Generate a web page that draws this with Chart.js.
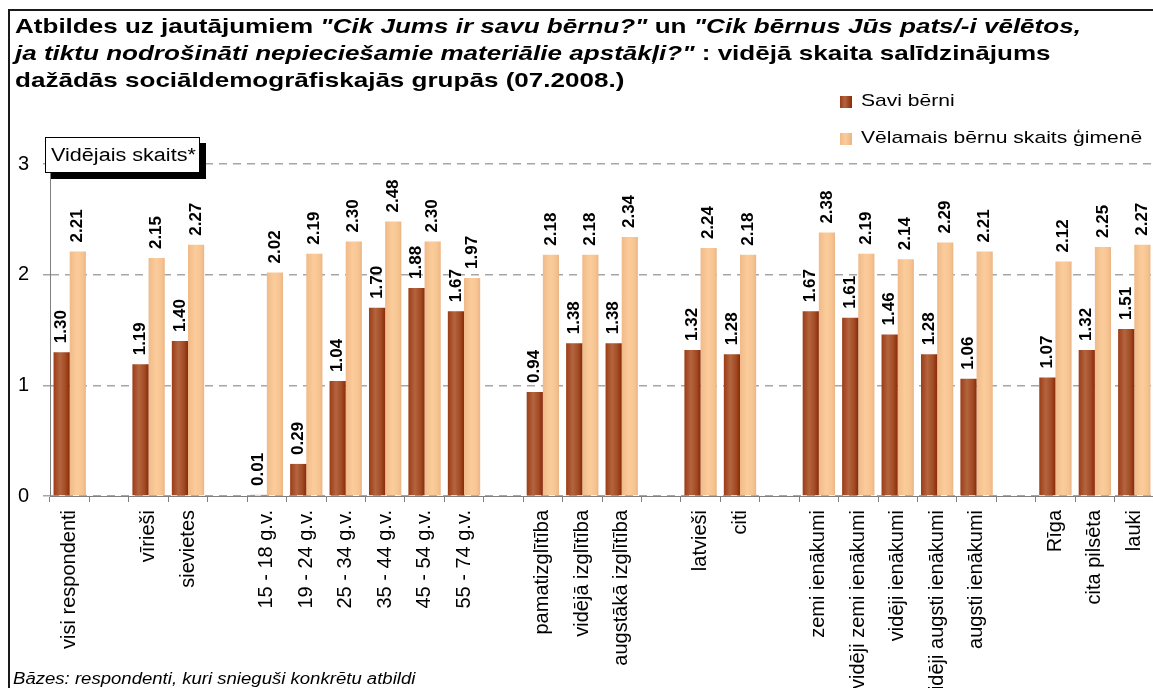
<!DOCTYPE html>
<html lang="lv">
<head>
<meta charset="utf-8">
<script src="https://cdn.jsdelivr.net/npm/chart.js@4.4.1/dist/chart.umd.min.js"></script>
<style>
    html, body { margin: 0; padding: 0; background: #fff; overflow: hidden; width: 1153px; height: 688px; }
    body { position: relative; font-family: 'Liberation Sans', Arial, sans-serif; color: #000; }
    #ramis { position: absolute; left: 8px; top: 9px; width: 1200px; height: 720px; border: 2px solid #1a1a1a; box-sizing: border-box; }
    #wrap { position: absolute; left: 0; top: 0; width: 1170px; height: 688px; }
    .stiept { position: absolute; white-space: nowrap; transform-origin: 0 0; }
    .virsraksts { left: 15px; font-size: 21px; font-weight: bold; line-height: 27px; transform: scaleX(1.24); }
    .leg { left: 861px; font-size: 17px; line-height: 24px; transform: scaleX(1.24); }
    .kv { position: absolute; left: 840px; width: 12px; height: 12px; }
    #ybox { position: absolute; left: 45px; top: 137px; width: 155px; height: 36px; box-sizing: border-box; border: 1px solid #000; background: #fff; box-shadow: 6px 6px 0 #000; }
    #ybox div { left: 5px; top: 0; font-size: 18px; line-height: 34px; transform: scaleX(1.2); }
    #bazes { left: 13px; top: 669px; font-size: 16px; font-style: italic; line-height: 20px; transform: scaleX(1.16); }
</style>
</head>
<body>
<div id="ramis"></div>
<div id="wrap"><canvas id="grafiks"></canvas></div>
<div class="stiept virsraksts" style="top:12px">Atbildes uz jautājumiem <i>"Cik Jums ir savu bērnu?"</i> un <i>"Cik bērnus Jūs pats/-i vēlētos,</i></div>
<div class="stiept virsraksts" style="top:39px"><i>ja tiktu nodrošināti nepieciešamie materiālie apstākļi?"</i> : vidējā skaita salīdzinājums</div>
<div class="stiept virsraksts" style="top:66px">dažādās sociāldemogrāfiskajās grupās (07.2008.)</div>
<div class="kv" style="top:96px;background:linear-gradient(90deg,#9c3c16,#b3653f 40%,#8a2a08)"></div>
<div class="stiept leg" style="top:89px">Savi bērni</div>
<div class="kv" style="top:133px;background:linear-gradient(90deg,#f0ba88,#fbcc9b 45%,#eab585)"></div>
<div class="stiept leg" style="top:126px">Vēlamais bērnu skaits ģimenē</div>
<div id="ybox"><div class="stiept">Vidējais skaits*</div></div>
<div class="stiept" id="bazes">Bāzes: respondenti, kuri snieguši konkrētu atbildi</div>
<script>
// kategorijas (tukšās vietas atdala grupas)
const kategorijas = [
    'visi respondenti', '',
    'vīrieši', 'sievietes', '',
    '15 - 18 g.v.', '19 - 24 g.v.', '25 - 34 g.v.', '35 - 44 g.v.', '45 - 54 g.v.', '55 - 74 g.v.', '',
    'pamatizglītība', 'vidējā izglītība', 'augstākā izglītība', '',
    'latvieši', 'citi', '',
    'zemi ienākumi', 'vidēji zemi ienākumi', 'vidēji ienākumi', 'vidēji augsti ienākumi', 'augsti ienākumi', '',
    'Rīga', 'cita pilsēta', 'lauki'
];
const saviBerni = [
    1.30, null,
    1.19, 1.40, null,
    0.01, 0.29, 1.04, 1.70, 1.88, 1.67, null,
    0.94, 1.38, 1.38, null,
    1.32, 1.28, null,
    1.67, 1.61, 1.46, 1.28, 1.06, null,
    1.07, 1.32, 1.51
];
const velamais = [
    2.21, null,
    2.15, 2.27, null,
    2.02, 2.19, 2.30, 2.48, 2.30, 1.97, null,
    2.18, 2.18, 2.34, null,
    2.24, 2.18, null,
    2.38, 2.19, 2.14, 2.29, 2.21, null,
    2.12, 2.25, 2.27
];
const yTicks = [0, 1, 2, 3];

const catPct = 0.82;
const tumsais = [[0, '#9c3c16'], [0.4, '#b3653f'], [0.75, '#a24b24'], [1, '#8a2a08']];
const gaisais = [[0, '#f0ba88'], [0.45, '#fbcc9b'], [0.8, '#f6c491'], [1, '#eab585']];

function stabaKrasa(c, stops) {
    const x = c.chart.scales.x;
    if (!x || c.type !== 'data') return stops[1][1];
    const w = (x.right - x.left) / kategorijas.length * catPct / 2;
    const mid = x.getPixelForValue(c.dataIndex);
    if (!isFinite(mid) || !isFinite(w) || w <= 0) return stops[1][1];
    const x0 = c.datasetIndex === 0 ? mid - w : mid;
    const g = c.chart.ctx.createLinearGradient(x0, 0, x0 + w, 0);
    stops.forEach(([o, col]) => g.addColorStop(o, col));
    return g;
}

// vērtības virs stabiem, pagrieztas par 90°
const vertibas = {
    id: 'vertibas',
    afterDatasetsDraw(chart) {
        const ctx = chart.ctx;
        ctx.save();
        ctx.font = 'bold 17px "Liberation Sans", Arial, sans-serif';
        ctx.fillStyle = '#000';
        ctx.textAlign = 'left';
        ctx.textBaseline = 'middle';
        chart.data.datasets.forEach((ds, i) => {
            chart.getDatasetMeta(i).data.forEach((el, j) => {
                const v = ds.data[j];
                if (v == null) return;
                ctx.save();
                ctx.translate(el.x, el.y - 9);
                ctx.rotate(-Math.PI / 2);
                ctx.fillText(v.toFixed(2), 0, 0);
                ctx.restore();
            });
        });
        ctx.restore();
    }
};

new Chart(document.getElementById('grafiks'), {
    type: 'bar',
    data: {
        labels: kategorijas,
        datasets: [
            { label: 'Savi bērni', data: saviBerni, backgroundColor: c => stabaKrasa(c, tumsais) },
            { label: 'Vēlamais bērnu skaits ģimenē', data: velamais, backgroundColor: c => stabaKrasa(c, gaisais) }
        ]
    },
    options: {
        responsive: true,
        maintainAspectRatio: false,
        animation: false,
        layout: { padding: { top: 164, right: 16, left: 0, bottom: 0 } },
        datasets: { bar: { categoryPercentage: catPct, barPercentage: 1, borderWidth: 0 } },
        plugins: { legend: { display: false }, tooltip: { enabled: false } },
        scales: {
            x: {
                offset: true,
                grid: { display: true, drawOnChartArea: false, offset: true, tickLength: 6, color: '#808080' },
                border: { color: '#808080', width: 1 },
                ticks: {
                    autoSkip: false, minRotation: 90, maxRotation: 90, padding: 8,
                    color: '#000', font: { family: '"Liberation Sans", Arial, sans-serif', size: 20 }
                },
                afterFit(s) { s.height = 192; }
            },
            y: {
                min: 0, max: 3,
                afterBuildTicks(s) { s.ticks = yTicks.map(v => ({ value: v })); },
                grid: { color: '#a6a6a6', lineWidth: 1.5, tickLength: 7, tickColor: '#a6a6a6' },
                border: { color: '#808080', width: 1, dash: [8, 6] },
                ticks: {
                    padding: 14, color: '#000',
                    font: { family: '"Liberation Sans", Arial, sans-serif', size: 20 }
                },
                afterFit(s) { s.width = 50; }
            }
        }
    },
    plugins: [vertibas]
});
</script>
</body>
</html>
